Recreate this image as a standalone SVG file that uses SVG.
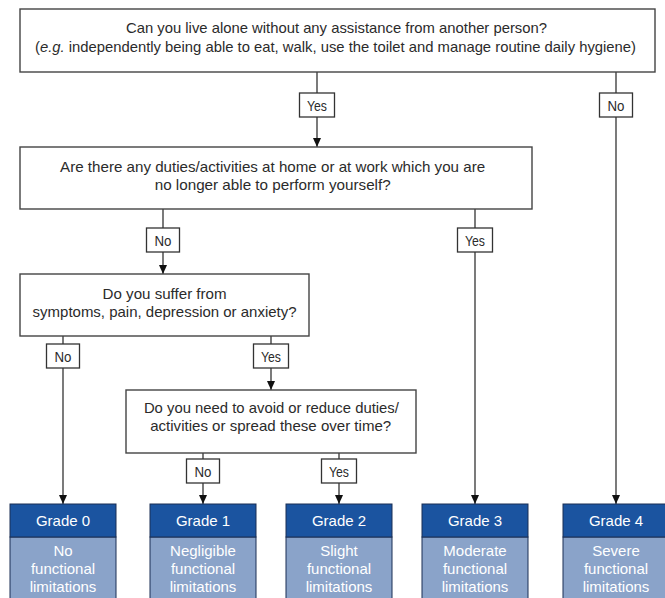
<svg xmlns="http://www.w3.org/2000/svg" width="665" height="598" viewBox="0 0 665 598">
<defs>
<marker id="ah" viewBox="0 0 9 8" refX="9" refY="4" markerWidth="9" markerHeight="8" markerUnits="userSpaceOnUse" orient="auto">
<path d="M0,0 L9,4 L0,8 z" fill="#111"/>
</marker>
<style>
.q{fill:#fff;stroke:#444;stroke-width:1.4}
.t{font-family:"Liberation Sans",Arial,sans-serif;font-size:14.5px;fill:#2b2b2b;text-anchor:middle}
.lb{fill:#fff;stroke:#333;stroke-width:1.3}
.lt{font-family:"Liberation Sans",Arial,sans-serif;font-size:14px;fill:#2b2b2b;text-anchor:middle}
.c{stroke:#333;stroke-width:1.3;fill:none}
.a{marker-end:url(#ah)}
.gh{fill:#1b54a0;stroke:#1a2f55;stroke-width:1}
.gb{fill:#8aa3c9;stroke:#1a2f55;stroke-width:1}
.gt{font-family:"Liberation Sans",Arial,sans-serif;font-size:15px;fill:#fff;text-anchor:middle}
</style>
</defs>
<g id="connectors">
<line class="c" x1="317" y1="72" x2="317" y2="93"/>
<line class="c a" x1="317" y1="117" x2="317" y2="147"/>
<line class="c" x1="616" y1="72" x2="616" y2="93"/>
<line class="c a" x1="616" y1="117" x2="616" y2="504"/>
<line class="c" x1="163" y1="209" x2="163" y2="228"/>
<line class="c a" x1="163" y1="252" x2="163" y2="274"/>
<line class="c" x1="475" y1="209" x2="475" y2="228"/>
<line class="c a" x1="475" y1="252" x2="475" y2="504"/>
<line class="c" x1="63" y1="336" x2="63" y2="344"/>
<line class="c a" x1="63" y1="368" x2="63" y2="504"/>
<line class="c" x1="271" y1="336" x2="271" y2="344"/>
<line class="c a" x1="271" y1="368" x2="271" y2="390"/>
<line class="c" x1="203" y1="453" x2="203" y2="459"/>
<line class="c a" x1="203" y1="483" x2="203" y2="504"/>
<line class="c" x1="339" y1="453" x2="339" y2="459"/>
<line class="c a" x1="339" y1="483" x2="339" y2="504"/>
</g>
<g id="q1">
<rect class="q" x="20" y="9" width="635" height="63"/>
<text class="t" x="336.5" y="33" textLength="421" lengthAdjust="spacingAndGlyphs">Can you live alone without any assistance from another person?</text>
<text class="t" x="335.5" y="52" textLength="601" lengthAdjust="spacingAndGlyphs">(<tspan font-style="italic">e.g.</tspan> independently being able to eat, walk, use the toilet and manage routine daily hygiene)</text>
</g>
<g id="q2">
<rect class="q" x="20" y="147" width="512" height="62"/>
<text class="t" x="272.6" y="172" textLength="425" lengthAdjust="spacingAndGlyphs">Are there any duties/activities at home or at work which you are</text>
<text class="t" x="272.7" y="189.5" textLength="236" lengthAdjust="spacingAndGlyphs">no longer able to perform yourself?</text>
</g>
<g id="q3">
<rect class="q" x="20" y="274" width="289" height="62"/>
<text class="t" x="164.6" y="298.5" textLength="124" lengthAdjust="spacingAndGlyphs">Do you suffer from</text>
<text class="t" x="164.6" y="316.5" textLength="264" lengthAdjust="spacingAndGlyphs">symptoms, pain, depression or anxiety?</text>
</g>
<g id="q4">
<rect class="q" x="126" y="390" width="290" height="63"/>
<text class="t" x="271.4" y="412.5" textLength="255" lengthAdjust="spacingAndGlyphs">Do you need to avoid or reduce duties/</text>
<text class="t" x="270.7" y="430.5" textLength="241" lengthAdjust="spacingAndGlyphs">activities or spread these over time?</text>
</g>
<g id="lbl-yes1"><rect class="lb" x="299.5" y="93" width="35" height="24"/><text class="lt" x="317" y="110.5" textLength="20" lengthAdjust="spacingAndGlyphs">Yes</text></g>
<g id="lbl-no1"><rect class="lb" x="599.5" y="93" width="33" height="24"/><text class="lt" x="616" y="110.5" textLength="17" lengthAdjust="spacingAndGlyphs">No</text></g>
<g id="lbl-no2"><rect class="lb" x="146.5" y="228" width="33" height="24"/><text class="lt" x="163" y="245.5" textLength="17" lengthAdjust="spacingAndGlyphs">No</text></g>
<g id="lbl-yes2"><rect class="lb" x="457.5" y="228" width="35" height="24"/><text class="lt" x="475" y="245.5" textLength="20" lengthAdjust="spacingAndGlyphs">Yes</text></g>
<g id="lbl-no3"><rect class="lb" x="46.5" y="344" width="33" height="24"/><text class="lt" x="63" y="361.5" textLength="17" lengthAdjust="spacingAndGlyphs">No</text></g>
<g id="lbl-yes3"><rect class="lb" x="253.5" y="344" width="35" height="24"/><text class="lt" x="271" y="361.5" textLength="20" lengthAdjust="spacingAndGlyphs">Yes</text></g>
<g id="lbl-no4"><rect class="lb" x="186.5" y="459" width="33" height="24"/><text class="lt" x="203" y="476.5" textLength="17" lengthAdjust="spacingAndGlyphs">No</text></g>
<g id="lbl-yes4"><rect class="lb" x="321.5" y="459" width="35" height="24"/><text class="lt" x="339" y="476.5" textLength="20" lengthAdjust="spacingAndGlyphs">Yes</text></g>
<g id="grade0">
<rect class="gb" x="10" y="537" width="106" height="66"/><rect class="gh" x="10" y="504" width="106" height="33"/>
<text class="gt" x="63" y="526">Grade 0</text>
<text class="gt" x="63" y="556">No</text><text class="gt" x="63" y="574">functional</text><text class="gt" x="63" y="592">limitations</text>
</g>
<g id="grade1">
<rect class="gb" x="150" y="537" width="106" height="66"/><rect class="gh" x="150" y="504" width="106" height="33"/>
<text class="gt" x="203" y="526">Grade 1</text>
<text class="gt" x="203" y="556">Negligible</text><text class="gt" x="203" y="574">functional</text><text class="gt" x="203" y="592">limitations</text>
</g>
<g id="grade2">
<rect class="gb" x="286" y="537" width="106" height="66"/><rect class="gh" x="286" y="504" width="106" height="33"/>
<text class="gt" x="339" y="526">Grade 2</text>
<text class="gt" x="339" y="556">Slight</text><text class="gt" x="339" y="574">functional</text><text class="gt" x="339" y="592">limitations</text>
</g>
<g id="grade3">
<rect class="gb" x="422" y="537" width="106" height="66"/><rect class="gh" x="422" y="504" width="106" height="33"/>
<text class="gt" x="475" y="526">Grade 3</text>
<text class="gt" x="475" y="556">Moderate</text><text class="gt" x="475" y="574">functional</text><text class="gt" x="475" y="592">limitations</text>
</g>
<g id="grade4">
<rect class="gb" x="563" y="537" width="106" height="66"/><rect class="gh" x="563" y="504" width="106" height="33"/>
<text class="gt" x="616" y="526">Grade 4</text>
<text class="gt" x="616" y="556">Severe</text><text class="gt" x="616" y="574">functional</text><text class="gt" x="616" y="592">limitations</text>
</g>
</svg>
